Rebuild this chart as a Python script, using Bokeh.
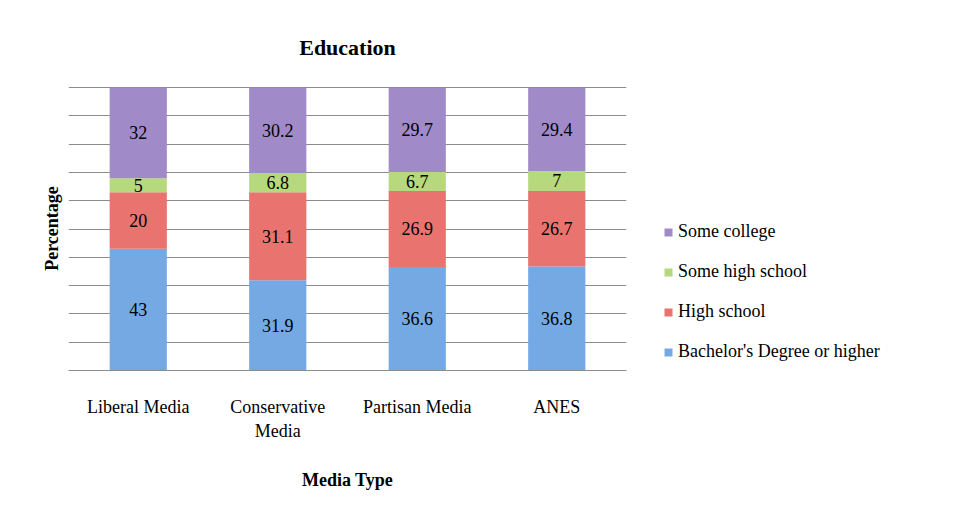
from bokeh.plotting import figure
from bokeh.models import ColumnDataSource, Legend, LegendItem, FixedTicker, Range1d
from bokeh.core.properties import value
from bokeh.embed import file_html
from bokeh.resources import INLINE

categories = ["Liberal Media", "Conservative\nMedia", "Partisan Media", "ANES"]
series = ["Bachelor's Degree or higher", "High school", "Some high school", "Some college"]
bachelor = [43, 31.9, 36.6, 36.8]
high_school = [20, 31.1, 26.9, 26.7]
some_high = [5, 6.8, 6.7, 7]
some_college = [32, 30.2, 29.7, 29.4]
colors = ["#74a9e3", "#e8736f", "#b5d97c", "#a08ac8"]

FONT = "Liberation Serif"

p = figure(x_range=categories, y_range=Range1d(0, 100.4), frame_width=558, frame_height=284,
           output_backend="svg", toolbar_location=None, title="Education",
           min_border_left=68, min_border_top=86, min_border_bottom=142, min_border_right=10)
p.outline_line_color = None
p.title.align = "center"
p.title.vertical_align = "top"
p.title.text_font = FONT
p.title.text_font_size = "22px"
p.title.offset = 0
p.title.standoff = 50
p.title.text_color = "black"

src = ColumnDataSource(data=dict(x=categories, b=bachelor, h=high_school, s=some_high, c=some_college))
renderers = p.vbar_stack(["b", "h", "s", "c"], x="x", width=0.41, source=src,
                         color=colors, line_color=None)

# value labels
lx, ly, lt = [], [], []
for i, cat in enumerate(categories):
    base = 0
    for vals in (bachelor, high_school, some_high, some_college):
        v = vals[i]
        lx.append(cat)
        ly.append(base + v / 2)
        lt.append(f"{v:g}")
        base += v
p.text(x=lx, y=ly, text=lt, text_align="center", text_baseline="middle",
       text_font=value(FONT), text_font_size="18px", text_color="black")

p.ygrid.grid_line_color = "#8c8c8c"
p.xgrid.grid_line_color = None
p.yaxis.ticker = FixedTicker(ticks=list(range(0, 101, 10)))
p.yaxis.major_label_text_font_size = "0px"
p.yaxis.axis_line_color = None
p.yaxis.major_tick_line_color = None
p.yaxis.minor_tick_line_color = None
p.yaxis.axis_label = "Percentage"
p.yaxis.axis_label_text_font = FONT
p.yaxis.axis_label_text_font_style = "bold"
p.yaxis.axis_label_text_font_size = "18px"
p.yaxis.axis_label_text_color = "black"
p.yaxis.axis_label_standoff = 1

p.xaxis.axis_line_color = "#8c8c8c"
p.xaxis.major_tick_line_color = None
p.xaxis.major_label_text_font = FONT
p.xaxis.major_label_text_font_size = "18px"
p.xaxis.major_label_text_color = "black"
p.xaxis.major_label_standoff = 20
p.xaxis.axis_label = "Media Type"
p.xaxis.axis_label_text_font = FONT
p.xaxis.axis_label_text_font_style = "bold"
p.xaxis.axis_label_text_font_size = "18px"
p.xaxis.axis_label_text_color = "black"
p.xaxis.axis_label_standoff = 26

items = [LegendItem(label=series[i], renderers=[renderers[i]]) for i in (3, 2, 1, 0)]
legend = Legend(items=items, location=(37, 8), label_text_font=FONT,
                label_text_font_size="18px", label_text_color="black",
                glyph_width=10, glyph_height=10,
                spacing=19, border_line_color=None, background_fill_alpha=0, margin=0)
p.add_layout(legend, "right")

open("out.html", "w").write(file_html(p, INLINE))
